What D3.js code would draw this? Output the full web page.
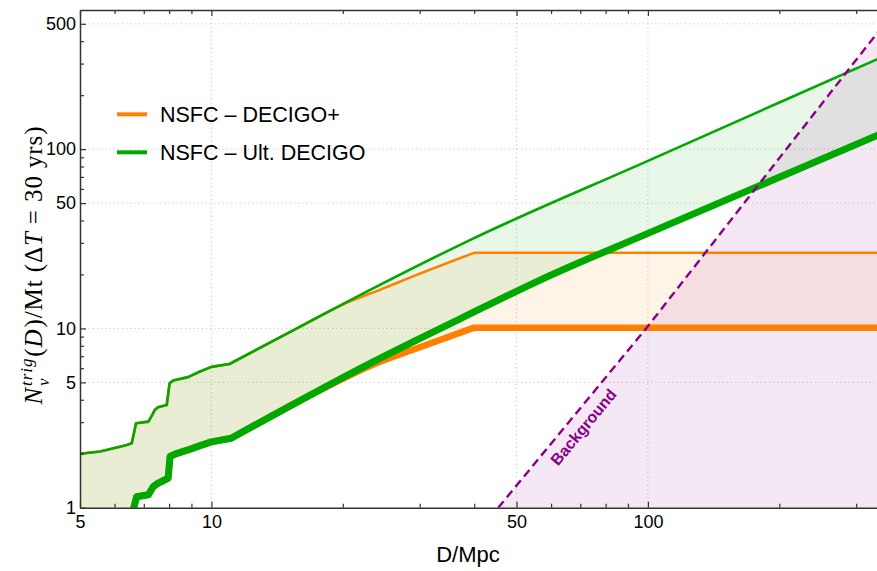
<!DOCTYPE html>
<html><head><meta charset="utf-8">
<script src="https://cdn.jsdelivr.net/npm/d3@7"></script>
<style>body{margin:0;background:#fff}svg{display:block}</style>
</head><body><svg id="c" width="877" height="571"></svg>
<script>
// ---------- data ----------
const dUltUpper = [5, 5.56, 6.0, 6.34, 6.57, 6.72, 7.17, 7.30, 7.42, 7.54, 7.90, 8.02, 8.17, 8.84, 9.42, 10.0, 11.0, 15.7, 23.1, 39.1, 100, 200, 340];
const nUltUpper = [2.0, 2.06, 2.15, 2.22, 2.29, 2.96, 3.02, 3.25, 3.51, 3.63, 3.74, 4.94, 5.12, 5.35, 5.75, 6.1, 6.33, 10.0, 16.4, 31.1, 86, 182, 322];

const dUltLower = [5, 6.6, 6.64, 6.74, 7.17, 7.36, 7.55, 7.69, 7.96, 8.04, 8.25, 8.84, 9.42, 10.0, 11.1, 23.1, 41.2, 56.6, 100, 340];
const nUltLower = [0.3, 0.3, 1.0, 1.15, 1.18, 1.31, 1.37, 1.40, 1.46, 1.93, 1.99, 2.10, 2.22, 2.33, 2.44, 6.39, 12.8, 18.6, 33.9, 121];

const dPlusUpper = [5, 5.56, 6.0, 6.34, 6.57, 6.72, 7.17, 7.30, 7.42, 7.54, 7.90, 8.02, 8.17, 8.84, 9.42, 10.0, 11.0, 15.7, 20.0, 24.3, 28.95, 40.0, 340];
const nPlusUpper = [2.0, 2.06, 2.15, 2.22, 2.29, 2.96, 3.02, 3.25, 3.51, 3.63, 3.74, 4.94, 5.12, 5.35, 5.75, 6.1, 6.33, 10.0, 13.6, 16.4, 19.5, 26.4, 26.4];

const dPlusLower = [5, 6.6, 6.64, 6.74, 7.17, 7.36, 7.55, 7.69, 7.96, 8.04, 8.25, 8.84, 9.42, 10.0, 11.1, 19.0, 23.5, 28.95, 40.0, 340];
const nPlusLower = [0.3, 0.3, 1.0, 1.15, 1.18, 1.31, 1.37, 1.40, 1.46, 1.93, 1.99, 2.10, 2.22, 2.33, 2.44, 4.93, 6.3, 7.6, 10.1, 10.1];

const dBackground = [45.4, 99.4, 285.5, 340];
const nBackground = [1.0, 10.1, 270, 464];

const xMajorTicks = [5, 10, 50, 100, 500];
const xMinorTicks = [6, 7, 8, 9, 20, 30, 40, 60, 70, 80, 90, 200, 300, 400];
const yMajorTicks = [1, 5, 10, 50, 100, 500];
const yMinorTicks = [2, 3, 4, 6, 7, 8, 9, 20, 30, 40, 60, 70, 80, 90, 200, 300, 400];
const xGridValues = [10, 50, 100];
const yGridValues = [5, 10, 50, 100, 500];
const legendLabels = ["NSFC \u2013 DECIGO+", "NSFC \u2013 Ult. DECIGO"];
const xTitle = "D/Mpc";
const bgLabel = "Background";
const bgLabelN = 3.17;
const stepEndD = 11.0;  // stepwise part ends here, smooth part begins
const plusKneeD = 40.0; // DECIGO+ curves become flat beyond this distance

// ---------- layout ----------
const L = 80, R = 877, T = 10, B = 507.7;
const ORANGE = "#ff8000", GREEN = "#00a800", PURPLE = "#880088";
const x = d3.scaleLog().domain([5, 334.8]).range([L, R]);
const y = d3.scaleLog().domain([1, 597]).range([B, T]);

const svg = d3.select("#c");
svg.append("defs").append("clipPath").attr("id", "clip")
  .append("rect").attr("x", L).attr("y", T).attr("width", R - L).attr("height", B - T);

const zip = (ds, ns) => ds.map((d, i) => [d, ns[i]]);

// grid
const grid = svg.append("g").attr("stroke", "#c8c8c8").attr("stroke-width", 1).attr("stroke-dasharray", "1.2,3");
grid.selectAll(".gx").data(xGridValues).join("line")
  .attr("x1", d => x(d)).attr("x2", d => x(d)).attr("y1", T).attr("y2", B);
grid.selectAll(".gy").data(yGridValues).join("line")
  .attr("x1", L).attr("x2", R).attr("y1", d => y(d)).attr("y2", d => y(d));

const plot = svg.append("g").attr("clip-path", "url(#clip)");

// path builders: linear steps, smooth middle, linear flat tail
const smooth = d3.line().x(p => x(p[0])).y(p => y(p[1])).curve(d3.curveMonotoneX);
const Lpt = p => "L" + x(p[0]) + "," + y(p[1]);
function curvePath(ds, ns, kneeD) {
  const pts = zip(ds, ns);
  const head = pts.filter(p => p[0] <= stepEndD + 0.15);
  const last = head[head.length - 1];
  const mid = pts.filter(p => p[0] >= last[0] && (kneeD == null || p[0] <= kneeD));
  const tail = kneeD == null ? [] : pts.filter(p => p[0] > kneeD);
  return "M" + x(head[0][0]) + "," + y(head[0][1]) + head.slice(1).map(Lpt).join("")
    + smooth(mid).replace(/^M/, "L") + tail.map(Lpt).join("");
}
// sample a path into points (for building filled bands)
const tmp = svg.append("path").attr("fill", "none").attr("stroke", "none");
function sample(d) {
  tmp.attr("d", d);
  const n = tmp.node(), len = n.getTotalLength(), out = [];
  for (let s = 0; s <= len; s += 0.5) { const p = n.getPointAtLength(s); out.push([p.x, p.y]); }
  const e = n.getPointAtLength(len); out.push([e.x, e.y]);
  return out;
}
function band(dU, dL) {
  const up = sample(dU), lo = sample(dL).reverse();
  return "M" + up.concat(lo).map(p => p.join(",")).join("L") + "Z";
}

const pathPlusUpper = curvePath(dPlusUpper, nPlusUpper, plusKneeD);
const pathPlusLower = curvePath(dPlusLower, nPlusLower, plusKneeD);
const pathUltUpper = curvePath(dUltUpper, nUltUpper);
const pathUltLower = curvePath(dUltLower, nUltLower);

// fills
plot.append("path").attr("d", band(pathPlusUpper, pathPlusLower))
  .attr("fill", ORANGE).attr("fill-opacity", 0.09);
plot.append("path").attr("d", band(pathUltUpper, pathUltLower))
  .attr("fill", "#00aa00").attr("fill-opacity", 0.09);
const bgArea = d3.area().x(p => x(p[0])).y0(B + 5).y1(p => y(p[1]));
plot.append("path").attr("d", bgArea(zip(dBackground, nBackground)))
  .attr("fill", "#800080").attr("fill-opacity", 0.09);
tmp.remove();

// lines
function drawPath(d, color, w) {
  plot.append("path").attr("d", d).attr("fill", "none")
    .attr("stroke", color).attr("stroke-width", w).attr("stroke-linejoin", "round");
}
drawPath(pathPlusUpper, ORANGE, 2.6);
drawPath(pathPlusLower, ORANGE, 6.5);
drawPath(pathUltUpper, GREEN, 2.6);
drawPath(pathUltLower, GREEN, 7);
const line = d3.line().x(p => x(p[0])).y(p => y(p[1]));
plot.append("path").attr("d", line(zip(dBackground, nBackground))).attr("fill", "none")
  .attr("stroke", PURPLE).attr("stroke-width", 2.4).attr("stroke-dasharray", "8.5,5");

// background label
{
  const p1 = [x(dBackground[0]), y(nBackground[0])], p2 = [x(dBackground[1]), y(nBackground[1])];
  const dx = p2[0] - p1[0], dy = p2[1] - p1[1], len = Math.hypot(dx, dy);
  const t = Math.log(bgLabelN / nBackground[0]) / Math.log(nBackground[1] / nBackground[0]);
  const px = p1[0] + t * dx, py = p1[1] + t * dy;
  const nx = -dy / len, ny = dx / len, off = 14.5;
  const ang = Math.atan2(dy, dx) * 180 / Math.PI;
  svg.append("text").attr("transform", `translate(${px + nx * off},${py + ny * off}) rotate(${ang})`)
    .attr("text-anchor", "middle").attr("dominant-baseline", "central")
    .attr("font-family", "Liberation Sans, Arial, sans-serif").attr("font-weight", "bold")
    .attr("font-size", 16).attr("fill", PURPLE).text(bgLabel);
}

// axes / frame
const FONT = "Liberation Sans, Arial, Helvetica, sans-serif";
const inX = v => v.filter(d => d >= x.domain()[0] - 1e-9 && d <= x.domain()[1]);
const inY = v => v.filter(d => d >= y.domain()[0] - 1e-9 && d <= y.domain()[1]);
function styleAxis(g) {
  g.selectAll("path.domain").attr("stroke", "#333").attr("stroke-width", 1.5);
  g.selectAll(".tick line").attr("stroke", "#333").attr("stroke-width", 1.2);
  g.selectAll(".tick text").attr("fill", "#000").attr("font-family", FONT).attr("font-size", 18);
}
const fmt = d => String(d);
svg.append("g").attr("transform", `translate(0,${B})`)
  .call(d3.axisBottom(x).tickValues(inX(xMajorTicks)).tickSizeInner(-6).tickSizeOuter(0).tickPadding(8).tickFormat(fmt))
  .call(styleAxis);
svg.append("g").attr("transform", `translate(0,${B})`)
  .call(d3.axisBottom(x).tickValues(inX(xMinorTicks)).tickSizeInner(-4).tickSizeOuter(0).tickFormat(""))
  .call(g => g.select(".domain").remove()).call(styleAxis);
svg.append("g").attr("transform", `translate(0,${T})`)
  .call(d3.axisTop(x).tickValues(inX(xMajorTicks)).tickSizeInner(-6).tickSizeOuter(0).tickFormat(""))
  .call(styleAxis);
svg.append("g").attr("transform", `translate(0,${T})`)
  .call(d3.axisTop(x).tickValues(inX(xMinorTicks)).tickSizeInner(-4).tickSizeOuter(0).tickFormat(""))
  .call(g => g.select(".domain").remove()).call(styleAxis);
svg.append("g").attr("transform", `translate(${L},0)`)
  .call(d3.axisLeft(y).tickValues(inY(yMajorTicks)).tickSizeInner(-6).tickSizeOuter(0).tickPadding(4).tickFormat(fmt))
  .call(styleAxis);
svg.append("g").attr("transform", `translate(${L},0)`)
  .call(d3.axisLeft(y).tickValues(inY(yMinorTicks)).tickSizeInner(-4).tickSizeOuter(0).tickFormat(""))
  .call(g => g.select(".domain").remove()).call(styleAxis);

// x title
svg.append("text").attr("x", 468).attr("y", 562).attr("text-anchor", "middle")
  .attr("font-family", FONT).attr("font-size", 22).attr("fill", "#000").text(xTitle);

// y title (rotated, with sub/superscript)
{
  const g = svg.append("g");
  const SERIF = "Liberation Serif, Times New Roman, serif";
  const S = 25, s = 17, LS = 0.9;
  let cur = 0;
  function piece(txt, opt) {
    const t = g.append("text").attr("x", cur).attr("y", opt.dy || 0)
      .attr("font-family", SERIF).attr("font-size", opt.size || S)
      .attr("letter-spacing", LS)
      .attr("font-style", opt.italic ? "italic" : "normal").attr("fill", "#000")
      .attr("xml:space", "preserve").text(txt);
    return t.node().getComputedTextLength();
  }
  cur += piece("N", { italic: true }) + 1;
  const w1 = piece("trig", { italic: true, size: s, dy: -10 });
  const w2 = piece("\u03bd", { italic: true, size: s, dy: 7 });
  cur += Math.max(w1, w2) + 1;
  cur += piece("(", {});
  cur += piece("D", { italic: true }) + 1;
  cur += piece(")/Mt (", {});
  cur += piece("\u0394", {});
  cur += piece("T", { italic: true });
  cur += piece(" = 30 yrs)", {});
  g.attr("transform", `translate(42,${265 + cur / 2}) rotate(-90)`);
}

// legend
{
  const lg = svg.append("g");
  const cols = [ORANGE, GREEN];
  const ys = [114.3, 152.3];
  legendLabels.forEach((lab, i) => {
    lg.append("line").attr("x1", 117).attr("x2", 147).attr("y1", ys[i]).attr("y2", ys[i])
      .attr("stroke", cols[i]).attr("stroke-width", 4);
    lg.append("text").attr("x", 160).attr("y", ys[i] + 7.8).attr("font-family", FONT)
      .attr("font-size", 21.5).attr("fill", "#000").text(lab);
  });
}
</script></body></html>
